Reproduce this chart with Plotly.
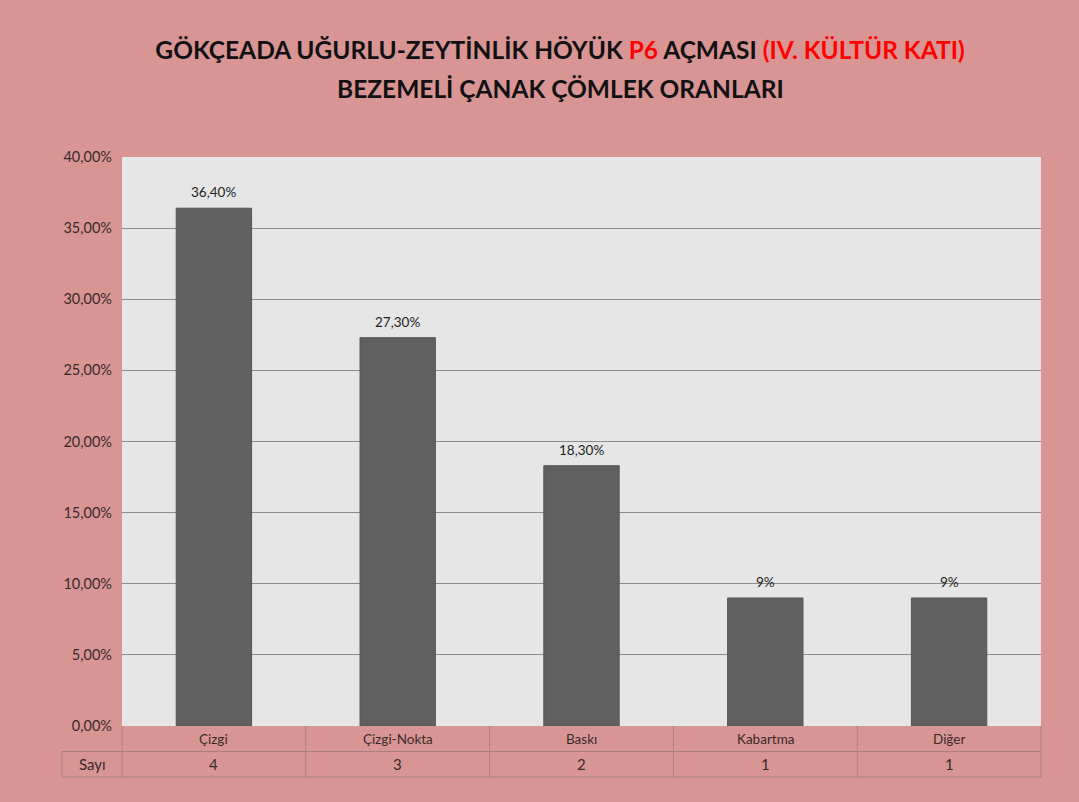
import plotly.graph_objects as go

# === DATEN ===
kategorien = ["Çizgi", "Çizgi-Nokta", "Baskı", "Kabartma", "Diğer"]
oranlar = [0.364, 0.273, 0.183, 0.09, 0.09]
etiketler = ["36,40%", "27,30%", "18,30%", "9%", "9%"]
sayi = [4, 3, 2, 1, 1]
y_ticks = [0, 0.05, 0.10, 0.15, 0.20, 0.25, 0.30, 0.35, 0.40]

BG = "#D99594"
PLOT_BG = "#E6E6E6"
BAR = "#606060"
TABLE_LINE = "#A88080"
TXT = "#3a2a2a"
FONT = "Lato"

fig = go.Figure(go.Bar(
    x=kategorien,
    y=oranlar,
    marker=dict(color=BAR, line=dict(color="#555555", width=1)),
    width=0.41,
))

# === TABELLE UNTER DEM DIAGRAMM ===
row_h = 25.5 / 569  # Zeilenhöhe im y-domain Maß
left = -60 / 919
n = len(kategorien)
line = dict(color=TABLE_LINE, width=1)
shapes = [
    dict(type="line", xref="paper", yref="y domain", x0=left, x1=1, y0=-row_h, y1=-row_h, line=line),
    dict(type="line", xref="paper", yref="y domain", x0=left, x1=1, y0=-2 * row_h, y1=-2 * row_h, line=line),
    dict(type="line", xref="paper", yref="y domain", x0=left, x1=left, y0=-row_h, y1=-2 * row_h, line=line),
]
for i in range(n + 1):
    shapes.append(dict(type="line", xref="paper", yref="y domain", x0=i / n, x1=i / n,
                       y0=0, y1=-2 * row_h, line=line))

annotations = []
for k, v, t, s in zip(kategorien, oranlar, etiketler, sayi):
    # Datenbeschriftung über dem Balken
    annotations.append(dict(x=k, xref="x", y=v, yref="y", text=t, showarrow=False,
                            yanchor="middle", yshift=16,
                            font=dict(family=FONT, size=13.5, color="#222222")))
    annotations.append(dict(x=k, xref="x", y=-row_h / 2, yref="y domain", text=k,
                            showarrow=False, yanchor="middle",
                            font=dict(family=FONT, size=13.5, color=TXT)))
    annotations.append(dict(x=k, xref="x", y=-1.5 * row_h, yref="y domain", text=str(s),
                            showarrow=False, yanchor="middle",
                            font=dict(family=FONT, size=15, color=TXT)))
annotations.append(dict(x=left / 2, xref="paper", y=-1.5 * row_h, yref="y domain", text="Sayı",
                        showarrow=False, yanchor="middle", xanchor="center",
                        font=dict(family=FONT, size=15, color=TXT)))
# zweite Titelzeile
annotations.append(dict(x=(560 - 122) / 919, xref="paper", y=1 + (157 - 88) / 569, yref="paper",
                        text="BEZEMELİ ÇANAK ÇÖMLEK ORANLARI",
                        showarrow=False, yanchor="middle", xanchor="center",
                        font=dict(family=FONT, size=24.5, color="#111111", weight="bold")))

fig.update_layout(
    width=1079, height=802,
    paper_bgcolor=BG,
    plot_bgcolor=PLOT_BG,
    separators=",.",
    title=dict(
        text="GÖKÇEADA UĞURLU-ZEYTİNLİK HÖYÜK <span style='color:#FF0000'>P6</span> AÇMASI "
             "<span style='color:#FF0000'>(IV. KÜLTÜR KATI)</span>",
        x=560 / 1079, xanchor="center", y=1 - 50 / 802, yanchor="middle",
        font=dict(family=FONT, size=24.5, color="#111111", weight="bold"),
    ),
    margin=dict(l=122, r=38, t=157, b=76),
    showlegend=False,
    bargap=0.59,
    xaxis=dict(showticklabels=False, ticks="", showgrid=False, showline=False),
    yaxis=dict(
        range=[0, 0.40], tickvals=y_ticks, tickformat=".2%",
        showgrid=True, gridcolor="#8c8c8c", gridwidth=1,
        zeroline=False, showline=False, ticks="", ticklabelstandoff=9,
        tickfont=dict(family=FONT, size=14.5, color=TXT),
    ),
    shapes=shapes,
    annotations=annotations,
)

fig.write_html("out.html", config={"displayModeBar": False},
               post_script="document.body.style.margin='0';document.body.style.background='#D99594';")
